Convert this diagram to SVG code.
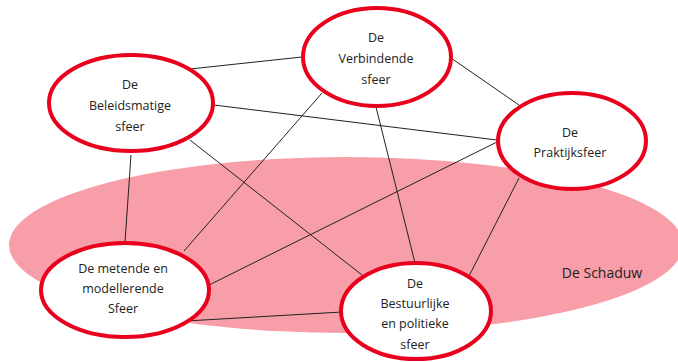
<svg xmlns="http://www.w3.org/2000/svg" width="678" height="362" viewBox="0 0 678 362">
<style>
.node{fill:#ffffff;stroke:#e8001c;stroke-width:4}
.lbl{font-family:"Open Sans","Noto Sans",sans-serif;font-size:12.5px;fill:#222;text-anchor:middle}
.edge{stroke:#222;stroke-width:1;fill:none}
</style>
<rect width="678" height="362" fill="#ffffff"/>
<ellipse id="schaduw" cx="346" cy="245" rx="337" ry="88" fill="#f79ea8"/>
<text class="lbl" x="602" y="278" style="font-size:14px;text-anchor:middle">De Schaduw</text>
<g id="connectors">
<line class="edge" x1="190" y1="69" x2="302" y2="57"/>
<line class="edge" x1="451" y1="58" x2="519" y2="105"/>
<line class="edge" x1="214" y1="105" x2="497" y2="140"/>
<line class="edge" x1="322" y1="93" x2="184" y2="251"/>
<line class="edge" x1="131" y1="155" x2="125" y2="242"/>
<line class="edge" x1="190" y1="140" x2="362" y2="275"/>
<line class="edge" x1="376" y1="107" x2="415" y2="263"/>
<line class="edge" x1="497" y1="142" x2="207" y2="286"/>
<line class="edge" x1="519" y1="178" x2="469" y2="276"/>
<line class="edge" x1="186" y1="321" x2="342" y2="312"/>
</g>
<g id="beleidsmatige">
<ellipse class="node" cx="131" cy="103" rx="82" ry="48"/>
<text class="lbl" x="130" y="89">De</text>
<text class="lbl" x="130" y="110">Beleidsmatige</text>
<text class="lbl" x="130" y="131">sfeer</text>
</g>
<g id="verbindende">
<ellipse class="node" cx="377" cy="57" rx="74" ry="49"/>
<text class="lbl" x="376" y="42">De</text>
<text class="lbl" x="376" y="63">Verbindende</text>
<text class="lbl" x="376" y="84">sfeer</text>
</g>
<g id="praktijksfeer">
<ellipse class="node" cx="572" cy="141" rx="74" ry="48"/>
<text class="lbl" x="570" y="137">De</text>
<text class="lbl" x="570" y="157">Praktijksfeer</text>
</g>
<g id="metende">
<ellipse class="node" cx="125" cy="290" rx="84" ry="47"/>
<text class="lbl" x="123" y="273">De metende en</text>
<text class="lbl" x="123" y="293">modellerende</text>
<text class="lbl" x="123" y="313">Sfeer</text>
</g>
<g id="bestuurlijke">
<ellipse class="node" cx="416" cy="311" rx="75" ry="48"/>
<text class="lbl" x="415" y="288">De</text>
<text class="lbl" x="415" y="308">Bestuurlijke</text>
<text class="lbl" x="415" y="328">en politieke</text>
<text class="lbl" x="415" y="349">sfeer</text>
</g>
</svg>
